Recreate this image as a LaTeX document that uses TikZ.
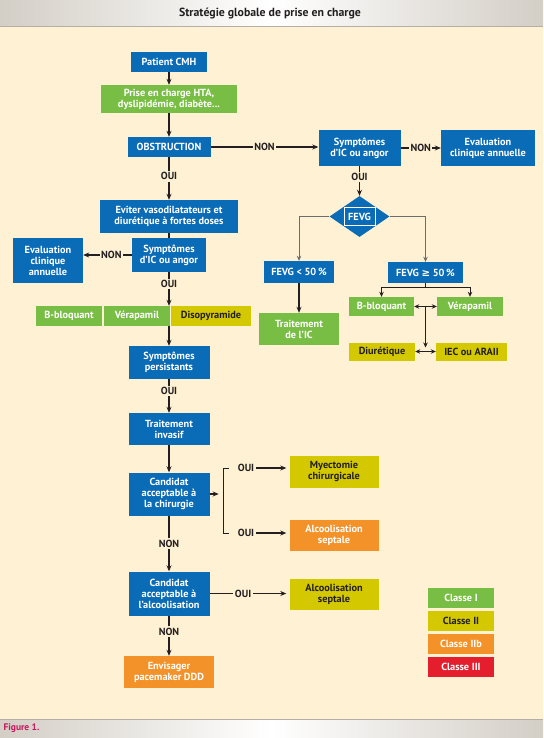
\documentclass[tikz,border=0pt]{standalone}
\usepackage{fontspec}
\setmainfont{PT Sans}
\newfontfamily\symfont{DejaVu Sans}
\usetikzlibrary{arrows.meta, calc, positioning, shapes.geometric}
\definecolor{cmhblue}{HTML}{0A6BB6}
\definecolor{cmhgreen}{HTML}{78BE45}
\definecolor{cmhyellow}{HTML}{D4C800}
\definecolor{cmhorange}{HTML}{F4922A}
\definecolor{cmhred}{HTML}{E41E2D}
\definecolor{cream}{HTML}{FFF1D4}
\definecolor{barside}{HTML}{D3CEC6}
\definecolor{barline}{HTML}{B4AEA4}
\definecolor{inkdark}{HTML}{231F20}
\definecolor{figmagenta}{HTML}{C8175D}
\tikzset{
  >={Stealth[length=6pt, width=5pt]},
  every picture/.style={line cap=butt, line join=miter},
  box/.style={inner sep=1pt, align=center, text=white, font=\bfseries\fontsize{10.3}{11}\selectfont},
  bluebox/.style={box, fill=cmhblue},
  greenbox/.style={box, fill=cmhgreen},
  yellowbox/.style={box, fill=cmhyellow, text=inkdark},
  orangebox/.style={box, fill=cmhorange},
  redbox/.style={box, fill=cmhred},
  sz/.style 2 args={minimum width=#1pt, minimum height=#2pt},
  flow/.style={draw=inkdark, line width=1.4pt},
  link/.style={draw=inkdark, line width=0.9pt, >={Stealth[length=5pt, width=4.5pt]}},
  grayflow/.style={draw=gray!85!black, line width=1pt, >={Stealth[length=5pt, width=4.5pt]}},
  lbl/.style={fill=cream, text=inkdark, inner sep=1.5pt, font=\bfseries\fontsize{10.3}{11}\selectfont},
}

\begin{document}
\begin{tikzpicture}[x=1pt, y=-1pt]
  \useasboundingbox (0,0) rectangle (543,738);
  % page background, header and footer bars
  \fill[cream] (0,27) rectangle (543,719);
  \shade[left color=barside, right color=barside, middle color=white] (0,0) rectangle (543,27);
  \draw[barline, line width=1pt] (0,27) -- (543,27);
  \node[text=inkdark, font=\bfseries\fontsize{11.8}{12}\selectfont] (title) at (270,13.5) {Stratégie globale de prise en charge};
  \shade[left color=barside, right color=barside, middle color=white] (0,719) rectangle (543,738);
  \draw[barline, line width=1pt] (0,719) -- (543,719);
  \node[anchor=west, text=figmagenta, font=\bfseries\fontsize{9.5}{10}\selectfont] (figlabel) at (0,728.5) {Figure 1.};

  % main column
  \node[bluebox, sz={76}{20}] (patient) at (169,62) {Patient CMH};
  \node[greenbox, sz={136}{28}] (prise) at (169,99) {Prise en charge HTA,\\dyslipidémie, diabète...};
  \node[bluebox, sz={83}{20}] (obstr) at (169,147) {OBSTRUCTION};
  \node[bluebox, sz={138}{33}] (eviter) at (169,216.5) {Eviter vasodilatateurs et\\diurétique à fortes doses};
  \node[bluebox, sz={74}{34}] (sympL) at (169,255) {Symptômes\\d'IC ou angor};
  \node[bluebox, sz={70}{45}] (evalL) at (48,260.5) {Evaluation\\clinique\\annuelle};
  \node[greenbox, sz={66}{20}] (bbL) at (69,316) {B-bloquant};
  \node[greenbox, sz={66}{20}] (veraL) at (137,316) {Vérapamil};
  \node[yellowbox, sz={80}{20}] (disoL) at (211,316) {Disopyramide};
  \node[bluebox, sz={81}{33}] (persist) at (169,362.5) {Symptômes\\persistants};
  \node[bluebox, sz={81}{32}] (invasif) at (169,429) {Traitement\\invasif};
  \node[bluebox, sz={81}{43}] (candChir) at (169,494) {Candidat\\acceptable à\\la chirurgie};
  \node[yellowbox, sz={89}{32}] (myect) at (334,471.5) {Myectomie\\chirurgicale};
  \node[orangebox, sz={89}{31}] (alcoA) at (334,535.5) {Alcoolisation\\septale};
  \node[bluebox, sz={81}{44}] (candAlc) at (169,593.5) {Candidat\\acceptable à\\l'alcoolisation};
  \node[yellowbox, sz={89}{31}] (alcoB) at (334,594.5) {Alcoolisation\\septale};
  \node[orangebox, sz={90}{32}] (pace) at (169,672) {Envisager\\pacemaker DDD};

  % right branch
  \node[bluebox, sz={82}{36}] (sympR) at (359.5,148) {Symptômes\\d'IC ou angor};
  \node[bluebox, sz={94}{36}] (evalR) at (488,148) {Evaluation\\clinique annuelle};
  \node[diamond, fill=cmhblue, sz={60}{41}, inner sep=0] (fevg) at (359.5,216.5) {};
  \node[box, draw=white, line width=1pt, sz={31}{18}] (fevgtag) at (fevg) {FEVG};
  \node[bluebox, sz={70}{22}] (fevgLow) at (299,272) {FEVG < 50\,\%};
  \node[bluebox, sz={75}{21}] (fevgHigh) at (425.5,272.5) {FEVG {\symfont ≥} 50\,\%};
  \node[greenbox, sz={80}{32}] (traitIC) at (299,329) {Traitement\\de l'IC};
  \node[greenbox, sz={65}{19}] (bbR) at (381.5,306.5) {B-bloquant};
  \node[greenbox, sz={66}{19}] (veraR) at (470,306.5) {Vérapamil};
  \node[yellowbox, sz={66}{18}] (diurR) at (382,351.5) {Diurétique};
  \node[yellowbox, sz={71}{18}] (iecR) at (471.5,351.5) {IEC ou ARAII};

  % legend
  \node[greenbox, sz={66}{20}] (classI) at (461,598) {Classe I};
  \node[yellowbox, sz={66}{20}] (classII) at (461,621) {Classe II};
  \node[orangebox, sz={66}{20}] (classIIb) at (461,644) {Classe IIb};
  \node[redbox, sz={66}{20}] (classIII) at (461,667) {Classe III};

  % connectors, main column
  \draw[flow, ->] (patient) -- (prise);
  \draw[flow, ->] (prise) -- (obstr);
  \draw[flow, ->] (obstr.east) -- node[lbl] {NON} (obstr.east -| sympR.west);
  \draw[flow, ->] (obstr) -- node[lbl, pos=0.45] {OUI} (eviter);
  \draw[flow] (eviter) -- (sympL);
  \draw[flow, ->] (sympL.west) -- node[lbl, pos=0.42] {NON} (sympL.west -| evalL.east);
  \draw[flow, ->] (sympL) -- node[lbl, pos=0.35] {OUI} (sympL.south |- disoL.north);
  \draw[flow, ->] (persist.north |- disoL.south) -- (persist);
  \draw[flow, ->] (persist) -- node[lbl, pos=0.35] {OUI} (invasif);
  \draw[flow, ->] (invasif) -- (candChir);
  \draw[flow, ->] (candChir) -- node[lbl] {NON} (candAlc);
  \draw[flow, ->] (candAlc) -- node[lbl, pos=0.4] {NON} (pace);
  % surgery bracket
  \draw[flow, ->] (candChir.east) -- ++(9,0);
  \coordinate (brTop) at (229,468);
  \coordinate (brBot) at (229,533);
  \draw[link] (brTop) -- ++(-6,0) |- (brBot);
  \node[lbl] (ouiTop) at (246,468) {OUI};
  \node[lbl] (ouiBot) at (246,533) {OUI};
  \draw[flow, ->, shorten >=3pt] (ouiTop) -- (ouiTop -| myect.west);
  \draw[flow, ->, shorten >=3pt] (ouiBot) -- (ouiBot -| alcoA.west);
  \draw[flow, ->, shorten >=3pt] (candAlc.east) -- node[lbl, pos=0.42] {OUI} (candAlc.east -| alcoB.west);

  % connectors, right branch
  \draw[flow, ->] (sympR) -- node[lbl] {NON} (evalR);
  \draw[flow, ->] (sympR) -- node[lbl, pos=0.37] {OUI} (fevg);
  \draw[grayflow, ->] (fevg.west) -| (fevgLow.north);
  \draw[grayflow, ->] (fevg.east) -| (fevgHigh.north);
  \draw[flow, ->] (fevgLow) -- (traitIC);
  \draw[link] (fevgHigh.south) -- ++(0,4) coordinate (splitR);
  \draw[link, ->] (splitR) -| (bbR.north);
  \draw[link, ->] (splitR) -| (veraR.north);
  \draw[link, <->] (bbR) -- (veraR);
  \coordinate (midR) at ($(bbR.east)!0.5!(veraR.west)$);
  \draw[link, ->, shorten >=4pt] (midR) -- (midR |- diurR.center);
  \draw[link, <->] (diurR) -- (iecR);
\end{tikzpicture}
\end{document}
